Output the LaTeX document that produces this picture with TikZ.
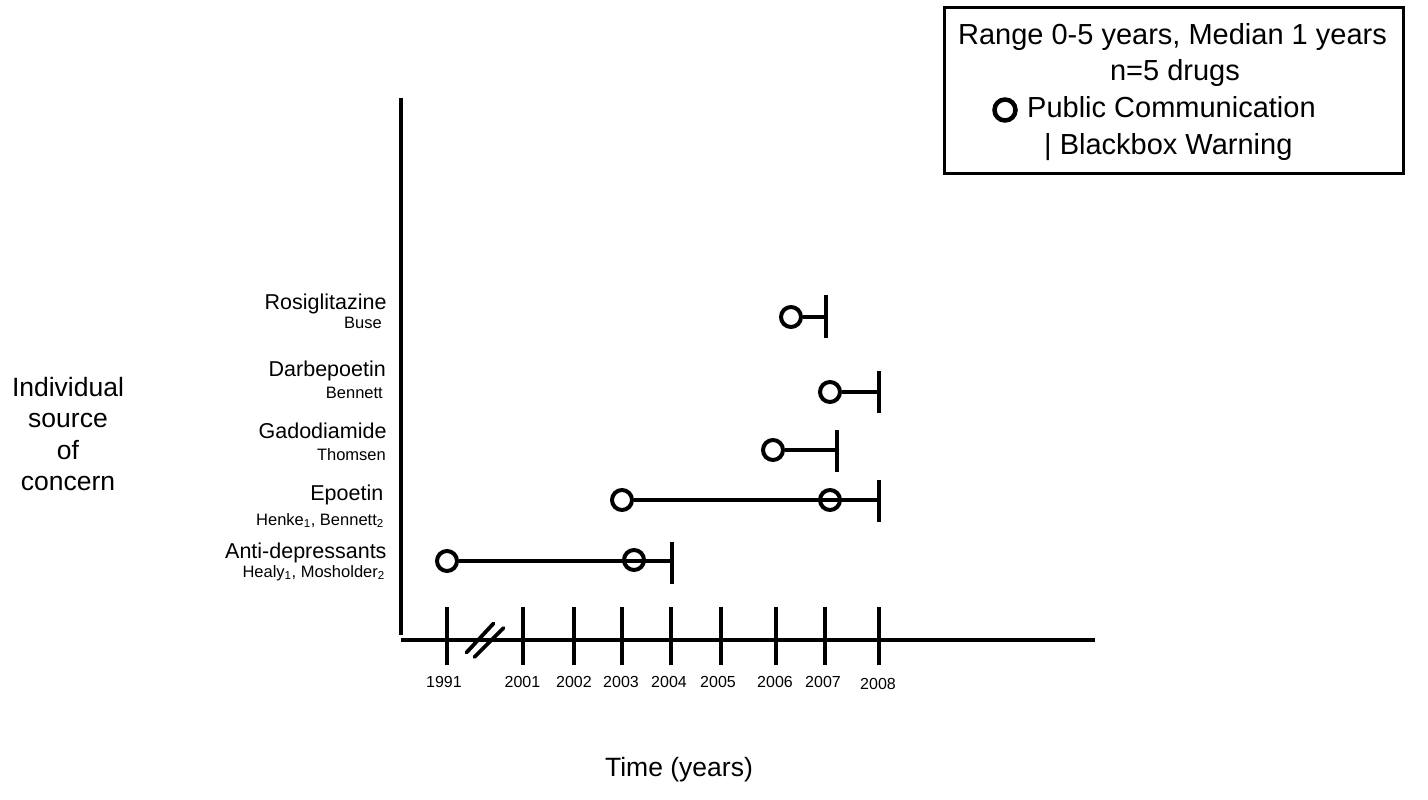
\documentclass[tikz,border=0pt]{standalone}
\usepackage{fontspec}
\setmainfont{Liberation Sans}
\begin{document}
\begin{tikzpicture}[x=1pt,y=-1pt,
  axis/.style={line width=4.2pt,line cap=butt},
  tickln/.style={line width=3.8pt},
  mk/.style={circle,draw,line width=4pt,minimum size=20pt,inner sep=0pt},
  conn/.style={line width=4pt},
  barln/.style={line width=4pt},
  big/.style={font=\fontsize{21.5}{24}\selectfont,inner sep=0pt},
  small/.style={font=\fontsize{16.5}{19}\selectfont,inner sep=0pt},
  yr/.style={font=\fontsize{16}{18}\selectfont,inner sep=0pt,anchor=base},
  ttl/.style={font=\fontsize{26.5}{30}\selectfont,inner sep=0pt,anchor=base},
  leg/.style={font=\fontsize{29}{33}\selectfont,inner sep=0pt}]
\useasboundingbox (0,0) rectangle (1428,800);
% axes
\coordinate (ytop) at (401,98);
\coordinate (ybot) at (401,635);
\coordinate (xl) at (401,640);
\coordinate (xr) at (1095,640);
\draw[axis] (ytop) -- (ybot);
\draw[axis] (xl) -- (xr);
% ticks
\foreach \n/\x in {t91/447,t01/523,t02/574,t03/622,t04/671,t05/721,t06/776,t07/825,t08/879}{
  \coordinate (\n a) at (\x,607);
  \coordinate (\n b) at (\x,665);
  \draw[tickln] (\n a) -- (\n b);
}
\node[yr] (l91) at (444,687) {1991};
\node[yr] (l01) at (522.5,687) {2001};
\node[yr] (l02) at (574,687) {2002};
\node[yr] (l03) at (621,687) {2003};
\node[yr] (l04) at (669,687) {2004};
\node[yr] (l05) at (718,687) {2005};
\node[yr] (l06) at (775,687) {2006};
\node[yr] (l07) at (823,687) {2007};
\node[yr] (l08) at (878,689.5) {2008};
% axis break
\coordinate (bA1) at (466.5,652.5);
\coordinate (bA2) at (493.5,623.5);
\coordinate (bB1) at (474.5,657);
\coordinate (bB2) at (503.5,628);
\draw[tickln,line cap=round] (bA1) -- (bA2);
\draw[tickln,line cap=round] (bB1) -- (bB2);
% axis titles
\node[ttl] (ylab1) at (68,396.7) {Individual};
\node[ttl] (ylab2) at (68,427.5) {source};
\node[ttl] (ylab3) at (68,459) {of};
\node[ttl] (ylab4) at (68,490.5) {concern};
\node[ttl] (xlab) at (679,776.7) {Time (years)};
% row labels
\node[big,anchor=base east] (n1) at (386.7,309) {Rosiglitazine};
\node[small,anchor=base east] (s1) at (382,328) {Buse};
\node[big,anchor=base east] (n2) at (386,376.7) {Darbepoetin};
\node[small,anchor=base east] (s2) at (383,398) {Bennett};
\node[big,anchor=base east] (n3) at (386.7,438) {Gadodiamide};
\node[small,anchor=base east] (s3) at (386,460) {Thomsen};
\node[big,anchor=base east] (n4) at (383.5,500) {Epoetin};
\node[small,anchor=base east] (s4) at (384,525) {Henke\textsubscript{1}, Bennett\textsubscript{2}};
\node[big,anchor=base east] (n5) at (386.7,558) {Anti-depressants};
\node[small,anchor=base east] (s5) at (385,577) {Healy\textsubscript{1}, Mosholder\textsubscript{2}};
% Rosiglitazine
\node[mk] (c1) at (791,317) {};
\coordinate (b1a) at (826,295); \coordinate (b1b) at (826,338); \coordinate (b1) at (826,317);
\draw[conn] (c1) -- (b1);
\draw[barln] (b1a) -- (b1b);
% Darbepoetin
\node[mk] (c2) at (830,392) {};
\coordinate (b2a) at (879,371); \coordinate (b2b) at (879,413); \coordinate (b2) at (879,392);
\draw[conn] (c2) -- (b2);
\draw[barln] (b2a) -- (b2b);
% Gadodiamide
\node[mk] (c3) at (773,450) {};
\coordinate (b3a) at (837,430); \coordinate (b3b) at (837,472); \coordinate (b3) at (837,450);
\draw[conn] (c3) -- (b3);
\draw[barln] (b3a) -- (b3b);
% Epoetin
\node[mk] (c4) at (622,500) {};
\node[mk] (c4b) at (830,500) {};
\coordinate (b4a) at (879,480); \coordinate (b4b) at (879,522); \coordinate (b4) at (879,500);
\draw[conn] (c4) -- (b4);
\draw[barln] (b4a) -- (b4b);
% Anti-depressants
\node[mk] (c5) at (447,561) {};
\node[mk] (c5b) at (634,560) {};
\coordinate (b5a) at (672,541.5); \coordinate (b5b) at (672,583.5); \coordinate (b5) at (672,561);
\draw[conn] (c5) -- (b5);
\draw[barln] (b5a) -- (b5b);
% legend
\node[draw,line width=3pt,minimum width=459pt,minimum height=165pt,inner sep=0pt] (legbox) at (1173.5,90.5) {};
\node[leg,anchor=base] (g1) at (1172.5,44.3) {Range 0-5 years, Median 1 years};
\node[leg,anchor=base] (g2) at (1175,81) {n=5 drugs};
\node[mk,line width=4.5pt,minimum size=21pt] (gc) at (1005,110) {};
\node[leg,anchor=base west] (g3) at (1027,117.5) {Public Communication};
\node[leg,anchor=base west] (g4) at (1044,154) {| Blackbox Warning};
\end{tikzpicture}
\end{document}
